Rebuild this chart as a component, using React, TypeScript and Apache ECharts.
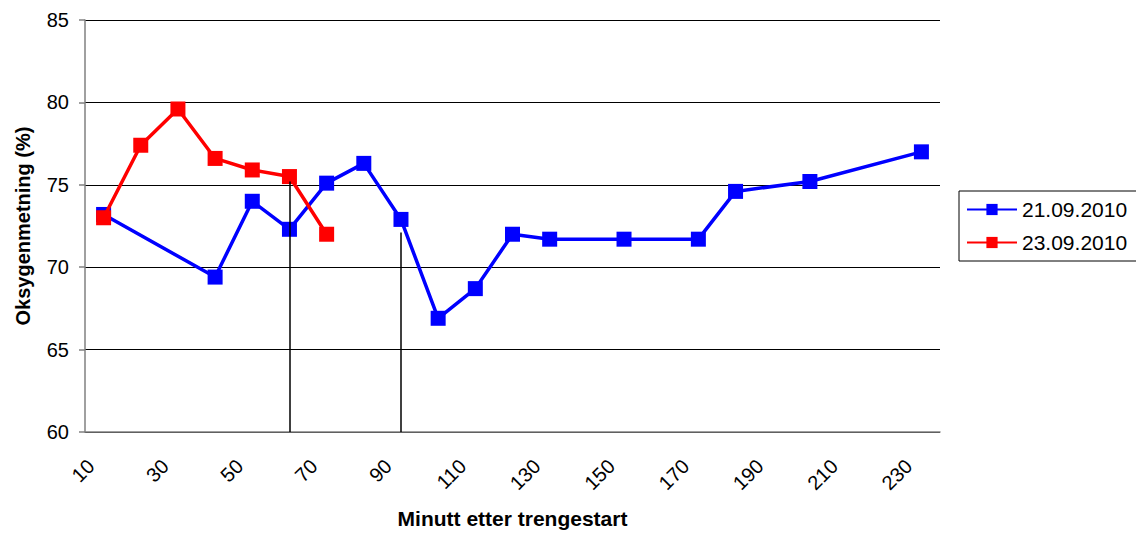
import React, { useEffect, useRef } from "react";
import * as echarts from "echarts";

const categories = [
  "10", "20", "30", "40", "50", "60", "70", "80", "90", "100", "110", "120",
  "130", "140", "150", "160", "170", "180", "190", "200", "210", "220", "230",
];

const series1Name = "21.09.2010";
const series1 = [
  73.2, null, null, 69.4, 74.0, 72.3, 75.1, 76.3, 72.9, 66.9, 68.7, 72.0,
  71.7, null, 71.7, null, 71.7, 74.6, null, 75.2, null, null, 77.0,
];

const series2Name = "23.09.2010";
const series2 = [73.0, 77.4, 79.6, 76.6, 75.9, 75.5, 72.0];

const dropLines = [
  { cat: "60", top: 75.2 },
  { cat: "90", top: 72.1 },
];

const yTitle = "Oksygenmetning (%)";
const xTitle = "Minutt etter trengestart";

const FONT = "'Liberation Sans', Arial, sans-serif";

export default function App() {
  const ref = useRef<HTMLDivElement>(null);

  useEffect(() => {
    if (!ref.current) return;
    const chart = echarts.init(ref.current, undefined, { renderer: "svg" });
    chart.setOption({
      animation: false,
      backgroundColor: "#ffffff",
      textStyle: { fontFamily: FONT },
      grid: { left: 85, top: 20, width: 855, height: 412, containLabel: false },
      legend: {
        orient: "vertical",
        left: 959,
        top: 191,
        padding: [8, 14, 8, 7],
        itemGap: 12,
        itemWidth: 50,
        itemHeight: 14,
        borderColor: "#000",
        borderWidth: 1,
        textStyle: { fontSize: 21, color: "#000", fontFamily: FONT },
        data: [series1Name, series2Name],
      },
      xAxis: {
        type: "category",
        data: categories,
        boundaryGap: true,
        name: xTitle,
        nameLocation: "middle",
        nameGap: 76,
        nameTextStyle: { fontSize: 21, fontWeight: "bold", color: "#000", verticalAlign: "top" },
        axisLine: { lineStyle: { color: "#808080", width: 1.5 } },
        axisTick: { interval: 0, length: 6, lineStyle: { color: "#808080", width: 1.5 } },
        axisLabel: {
          interval: 1,
          rotate: 45,
          margin: 18,
          padding: [0, 18, 0, 0],
          fontSize: 20,
          color: "#000",
        },
        splitLine: { show: false },
      },
      yAxis: {
        type: "value",
        min: 60,
        max: 85,
        interval: 5,
        name: yTitle,
        nameLocation: "middle",
        nameGap: 52,
        nameRotate: 90,
        nameTextStyle: { fontSize: 20, fontWeight: "bold", color: "#000" },
        axisLine: { show: true, lineStyle: { color: "#808080", width: 1.5 } },
        axisTick: { show: true, length: 6, lineStyle: { color: "#808080", width: 1.5 } },
        axisLabel: { margin: 16, fontSize: 20, color: "#000" },
        splitLine: { show: true, lineStyle: { color: "#000", width: 1 } },
      },
      series: [
        {
          name: series1Name,
          type: "line",
          data: series1,
          connectNulls: true,
          symbol: "rect",
          symbolSize: 15,
          itemStyle: { color: "#0000ff" },
          lineStyle: { color: "#0000ff", width: 3.5 },
          z: 2,
        },
        {
          name: series2Name,
          type: "line",
          data: series2,
          symbol: "rect",
          symbolSize: 15,
          itemStyle: { color: "#ff0000" },
          lineStyle: { color: "#ff0000", width: 3.5 },
          z: 3,
          markLine: {
            silent: true,
            symbol: ["none", "none"],
            label: { show: false },
            lineStyle: { color: "#000", width: 1.5, type: "solid" },
            data: dropLines.map((d) => [
              { coord: [d.cat, 60] },
              { coord: [d.cat, d.top] },
            ]),
          },
        },
      ],
    });
    return () => chart.dispose();
  }, []);

  return (
    <div
      ref={ref}
      style={{ position: "absolute", left: 0, top: 0, width: 1136, height: 534, background: "#fff" }}
    />
  );
}
